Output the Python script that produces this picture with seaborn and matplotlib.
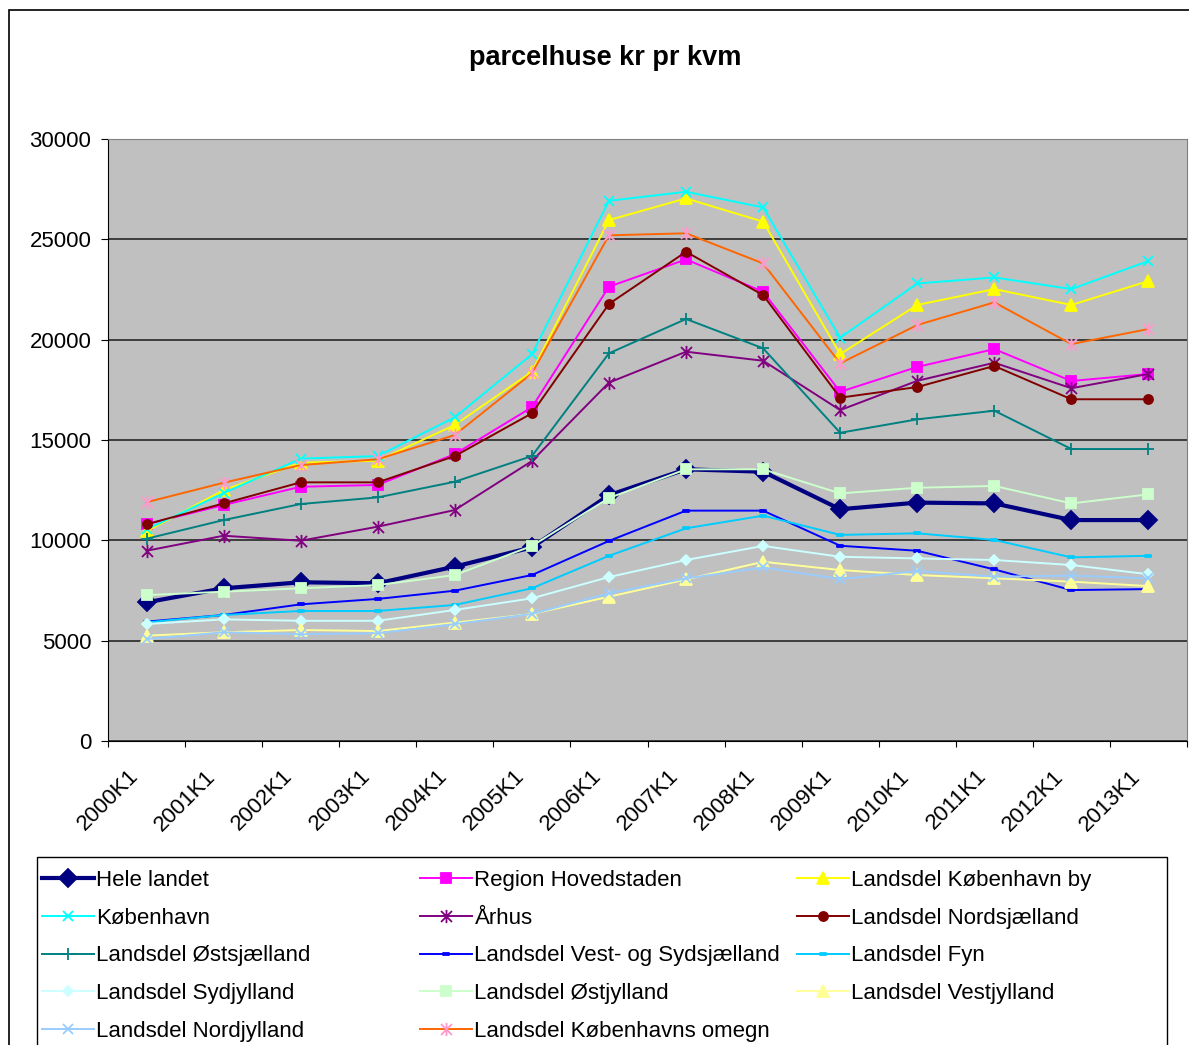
import numpy as np
import pandas as pd
import seaborn as sns
import matplotlib.pyplot as plt
from matplotlib.path import Path
from matplotlib.patches import Rectangle
from matplotlib.transforms import ScaledTranslation

quarters = ['2000K1', '2001K1', '2002K1', '2003K1', '2004K1', '2005K1', '2006K1',
            '2007K1', '2008K1', '2009K1', '2010K1', '2011K1', '2012K1', '2013K1']

hele_landet = [6910, 7610, 7910, 7860, 8690, 9650, 12250, 13540, 13420, 11550, 11880, 11840, 11010, 11010]
region_hovedstaden = [10800, 11760, 12670, 12760, 14300, 16630, 22640, 24000, 22390, 17400, 18640, 19530, 17940, 18290]
kbh_by = [10450, 12500, 13870, 13970, 15750, 18400, 25960, 27040, 25880, 19280, 21730, 22520, 21730, 22920]
koebenhavn = [10550, 12350, 14070, 14200, 16130, 19270, 26920, 27370, 26590, 20100, 22800, 23100, 22520, 23920]
aarhus = [9480, 10230, 9980, 10680, 11510, 13950, 17860, 19400, 18950, 16490, 17950, 18850, 17580, 18290]
nordsjaelland = [10800, 11840, 12890, 12890, 14200, 16330, 21780, 24380, 22220, 17110, 17640, 18690, 17030, 17030]
oestsjaelland = [10080, 11010, 11810, 12140, 12920, 14200, 19320, 21030, 19570, 15360, 16030, 16460, 14550, 14550]
vest_sydsjaelland = [5950, 6280, 6810, 7080, 7490, 8270, 9970, 11480, 11480, 9730, 9480, 8550, 7520, 7570]
fyn = [5910, 6280, 6480, 6480, 6780, 7610, 9230, 10600, 11230, 10270, 10350, 10020, 9150, 9230]
sydjylland = [5830, 6060, 5990, 5990, 6530, 7110, 8170, 9020, 9720, 9180, 9100, 9020, 8770, 8310]
oestjylland = [7270, 7440, 7610, 7770, 8270, 9720, 12110, 13540, 13540, 12340, 12620, 12710, 11840, 12290]
vestjylland = [5250, 5420, 5530, 5480, 5900, 6330, 7190, 8050, 8930, 8520, 8270, 8110, 7940, 7720]
nordjylland = [5080, 5420, 5320, 5370, 5830, 6330, 7360, 8100, 8650, 8070, 8470, 8190, 8240, 8110]
kbh_omegn = [11900, 12870, 13750, 14040, 15250, 18320, 25200, 25300, 23800, 18820, 20730, 21860, 19780, 20530]

names = ['Hele landet', 'Region Hovedstaden', 'Landsdel København by', 'København', 'Århus',
         'Landsdel Nordsjælland', 'Landsdel Østsjælland', 'Landsdel Vest- og Sydsjælland',
         'Landsdel Fyn', 'Landsdel Sydjylland', 'Landsdel Østjylland', 'Landsdel Vestjylland',
         'Landsdel Nordjylland', 'Landsdel Københavns omegn']
series = [hele_landet, region_hovedstaden, kbh_by, koebenhavn, aarhus, nordsjaelland, oestsjaelland,
          vest_sydsjaelland, fyn, sydjylland, oestjylland, vestjylland, nordjylland, kbh_omegn]

# excel style markers
star = Path([(-1, -1), (1, 1), (-1, 1), (1, -1), (0, -1.2), (0, 1.2)],
            [Path.MOVETO, Path.LINETO] * 3)
dash = Path([(-1, -0.4), (1, -0.4), (1, 0.4), (-1, 0.4), (-1, -0.4)],
            [Path.MOVETO, Path.LINETO, Path.LINETO, Path.LINETO, Path.CLOSEPOLY])

# line color, marker color, marker, marker size, line width
styles = [
    ('#000080', '#000080', 'D', 9, 3.0),
    ('#FF00FF', '#FF00FF', 's', 6.5, 1.4),
    ('#FFFF00', '#FFFF00', '^', 8, 1.4),
    ('#00FFFF', '#00FFFF', 'x', 7.5, 1.4),
    ('#800080', '#800080', star, 9.5, 1.4),
    ('#800000', '#800000', 'o', 6.5, 1.4),
    ('#008080', '#008080', '+', 8, 1.4),
    ('#0000FF', '#0000FF', dash, 5, 1.4),
    ('#00CCFF', '#00CCFF', dash, 5, 1.4),
    ('#CCFFFF', '#CCFFFF', 'D', 5, 1.4),
    ('#CCFFCC', '#CCFFCC', 's', 6.5, 1.4),
    ('#FFFF99', '#FFFF99', '^', 8, 1.4),
    ('#99CCFF', '#99CCFF', 'x', 7.5, 1.4),
    ('#FF6600', '#FF99CC', star, 9.5, 1.4),
]

df = pd.DataFrame({
    'quarter': quarters * len(names),
    'region': [n for n in names for _ in quarters],
    'value': [v for s in series for v in s],
})

plt.rcParams['font.family'] = ['Liberation Sans', 'DejaVu Sans']

fig = plt.figure(figsize=(11.89, 10.45), dpi=100)
ax = fig.add_axes([108 / 1189, 1 - 741 / 1045, 1079 / 1189, 602 / 1045])
ax.set_facecolor('#C0C0C0')

handles = []
for name, (lc, mc, mk, ms, lw) in zip(names, styles):
    sns.lineplot(data=df[df['region'] == name], x='quarter', y='value', ax=ax,
                 color=lc, marker=mk, markersize=ms, linewidth=lw,
                 markerfacecolor=mc, markeredgecolor=mc, markeredgewidth=1.3,
                 label=name, legend=False)
    handles.append(ax.lines[-1])

ax.set_xlim(-0.5, 13.5)
ax.set_ylim(0, 30000)
ax.set_yticks(range(0, 30001, 5000))
ax.set_yticklabels([str(v) for v in range(0, 30001, 5000)], fontsize=16)
ax.set_xticks(np.arange(-0.5, 14, 1))
ax.set_xticklabels([''] * 15)
ax.set_xticks(np.arange(14), minor=True)
ax.set_xticklabels(quarters, minor=True, fontsize=16, rotation=45,
                   ha='right', va='baseline', rotation_mode='anchor')
ax.tick_params(axis='x', which='major', length=4.5, direction='out')
ax.tick_params(axis='x', which='minor', length=0, pad=26)
ax.tick_params(axis='y', length=5, pad=7)
for lbl in ax.get_xticklabels(minor=True):
    lbl.set_transform(lbl.get_transform() + ScaledTranslation(-0.07, 0, fig.dpi_scale_trans))

ax.set_xlabel('')
ax.set_ylabel('')
ax.yaxis.grid(True, color='#333333', linewidth=1.3)
ax.xaxis.grid(False)
ax.spines['left'].set_color('black')
ax.spines['bottom'].set_color('black')
ax.spines['top'].set_color('#808080')
ax.spines['right'].set_color('#808080')

fig.text(605 / 1189, 1 - 58 / 1045, 'parcelhuse kr pr kvm', fontsize=19.5,
         fontweight='bold', ha='center', va='center')

# outer chart border and legend box
fig.patches.append(Rectangle((9 / 1189, -0.05), 1.2, 1 - 10 / 1045 + 0.05, transform=fig.transFigure,
                             fill=False, edgecolor='black', linewidth=1.2))
fig.patches.append(Rectangle((37 / 1189, -0.05), 1130 / 1189, 1 - 857 / 1045 + 0.05,
                             transform=fig.transFigure, fill=False, edgecolor='black', linewidth=1))

# legend rows are filled left to right like excel
cols = [[0, 3, 6, 9, 12], [1, 4, 7, 10, 13], [2, 5, 8, 11]]
for xpos, idx in zip([42, 420, 797], cols):
    leg = fig.legend(handles=[handles[i] for i in idx], labels=[names[i] for i in idx],
                     loc='upper left', bbox_to_anchor=(xpos / 1189, 1 - 870 / 1045),
                     frameon=False, fontsize=16, handlelength=2.35, handletextpad=0.1,
                     borderpad=0, borderaxespad=0, labelspacing=0.75)

fig.savefig('out.png', dpi=100)
